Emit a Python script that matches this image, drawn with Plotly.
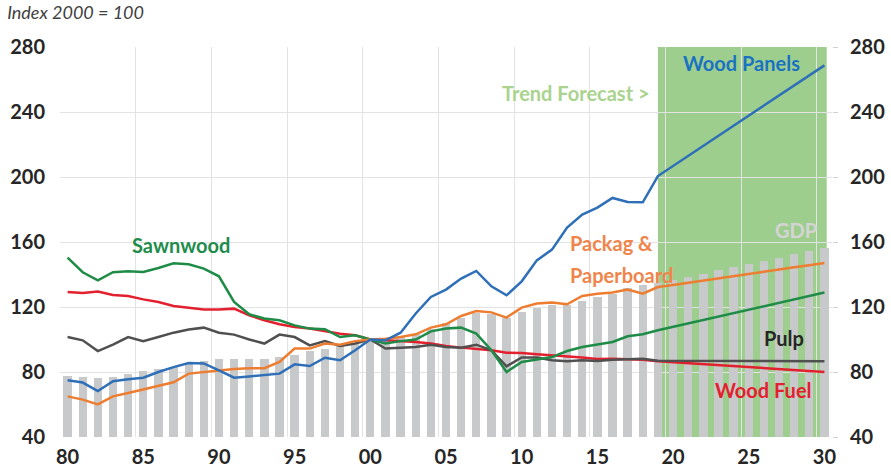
import plotly.graph_objects as go

years = list(range(1980, 2031))
tick_years = list(range(1980, 2031, 5))
tick_labels = ["80", "85", "90", "95", "00", "05", "10", "15", "20", "25", "30"]
y_ticks = [40, 80, 120, 160, 200, 240, 280]
forecast_start = 2019

gdp = [77.3, 77.0, 76.3, 77.0, 78.8, 80.4, 81.7, 83.0, 85.2, 87.0,
       88.2, 87.8, 88.2, 88.0, 89.2, 90.7, 92.9, 94.4, 96.0, 97.8,
       100.0, 101.0, 101.7, 103.5, 106.5, 110.0, 113.5, 116.5, 116.0, 113.0,
       117.0, 119.5, 121.0, 121.5, 124.0, 126.0, 128.2, 131.7, 133.4, 134.8,
       136.4, 138.5, 140.5, 142.6, 144.6, 146.3, 148.3, 150.4, 152.4, 154.3, 156.3]

wood_panels = [74.9, 73.5, 68.3, 74.3, 75.5, 76.5, 80.0, 83.0, 85.5, 85.3,
               81.0, 76.5, 77.3, 78.2, 79.0, 84.7, 83.7, 88.8, 87.2, 93.4,
               100.0, 99.5, 104.2, 116.0, 126.2, 130.7, 137.5, 142.2, 132.7, 127.2,
               135.8, 148.7, 155.3, 168.9, 176.9, 181.2, 187.1, 184.6, 184.4, 200.6,
               206.8, 213.0, 219.2, 225.4, 231.6, 237.8, 244.0, 250.2, 256.4, 262.6, 268.7]

packaging = [65.0, 63.0, 60.1, 65.0, 67.1, 69.2, 71.6, 73.7, 79.0, 80.0,
             80.9, 81.9, 82.3, 82.3, 86.2, 94.4, 94.4, 97.5, 96.8, 99.0,
             100.0, 100.5, 101.5, 103.2, 107.3, 109.4, 114.5, 117.5, 116.7, 113.5,
             119.6, 122.1, 122.7, 121.7, 126.8, 128.2, 128.9, 130.7, 128.2, 132.3,
             133.6, 135.0, 136.3, 137.7, 139.0, 140.4, 141.7, 143.0, 144.4, 145.7, 147.1]

sawnwood = [150.4, 141.4, 136.4, 141.4, 142.0, 141.5, 144.0, 146.9, 146.3, 143.6,
            138.9, 123.1, 115.5, 112.9, 111.8, 108.7, 106.7, 106.3, 101.5, 102.6,
            100.0, 97.5, 99.0, 100.0, 105.0, 106.7, 107.3, 103.6, 93.4, 80.0,
            86.2, 87.6, 89.2, 92.9, 95.4, 96.9, 98.5, 102.0, 103.2, 105.7,
            107.8, 109.9, 112.0, 114.1, 116.2, 118.3, 120.4, 122.5, 124.6, 126.8, 128.9]

wood_fuel = [129.2, 128.6, 129.5, 127.4, 126.8, 124.7, 123.1, 120.6, 119.6, 118.4,
             118.4, 119.0, 114.9, 111.8, 109.4, 107.7, 106.7, 105.2, 103.6, 102.6,
             100.0, 99.5, 99.0, 98.5, 97.5, 96.0, 95.0, 94.4, 93.4, 91.9,
             91.7, 90.9, 90.3, 89.7, 88.9, 88.0, 88.2, 87.8, 87.6, 86.6,
             86.0, 85.4, 84.8, 84.2, 83.6, 83.0, 82.4, 81.8, 81.2, 80.6, 80.0]

pulp = [101.5, 99.5, 92.9, 96.8, 101.5, 98.9, 101.5, 104.2, 106.1, 107.3,
        104.2, 103.0, 100.0, 97.5, 103.0, 101.5, 96.4, 99.0, 96.0, 97.5,
        100.0, 94.4, 95.0, 95.4, 96.8, 95.4, 95.0, 96.8, 93.4, 83.5,
        88.9, 88.9, 87.2, 86.6, 87.2, 86.8, 87.6, 87.8, 88.2, 87.0,
        87.0, 86.9, 86.9, 86.9, 86.8, 86.8, 86.8, 86.7, 86.7, 86.6, 86.6]

FONT = "Lato"
TXT = "#262626"
GRID = "#e3e3e3"

fig = go.Figure()
fig.add_trace(go.Bar(x=years, y=gdp, width=0.55, marker=dict(color="#c8c9ca", line_width=0),
                     name="GDP", showlegend=False))

lines = [
    (wood_fuel, "#e3202e", "Wood Fuel"),
    (pulp, "#505050", "Pulp"),
    (sawnwood, "#1e8c47", "Sawnwood"),
    (packaging, "#ed7d31", "Packag & Paperboard"),
    (wood_panels, "#2e6fb7", "Wood Panels"),
]
for vals, col, nm in lines:
    fig.add_trace(go.Scatter(x=years, y=vals, mode="lines", line=dict(color=col, width=2.5),
                             name=nm, showlegend=False))

# invisible trace so the right-hand axis is drawn
fig.add_trace(go.Scatter(x=years, y=gdp, yaxis="y2", mode="lines", line=dict(width=0),
                         opacity=0, hoverinfo="skip", showlegend=False))

fig.add_shape(type="rect", xref="x", yref="y", x0=forecast_start, x1=years[-1] + 0.15,
              y0=y_ticks[0], y1=y_ticks[-1], fillcolor="#9ece8e", line_width=0, layer="below")

def ann(text, x, y, color, size=20, xanchor="center"):
    fig.add_annotation(text=text, x=x, y=y, xref="x", yref="y", showarrow=False,
                       xanchor=xanchor, yanchor="middle",
                       font=dict(family=FONT, size=size, color=color, weight="bold"))

ann("Sawnwood", 1987.47, 158.0, "#1e8c4b")
ann("Wood Panels", 2024.5, 270.0, "#1a72c2")
ann("Trend Forecast >", 2013.6, 252.0, "#a9d38e")
ann("Packag &", 2013.07, 159.2, "#f0844a", xanchor="left")
ann("Paperboard", 2013.07, 140.0, "#f0844a", xanchor="left")
ann("Pulp", 2027.3, 100.7, TXT)
ann("Wood Fuel", 2026.0, 68.7, "#e3202e")
ann("GDP", 2028.15, 167.2, "#d4d4d4")

tickfont = dict(family=FONT, size=20, color=TXT, weight="bold")

fig.update_layout(
    width=891, height=471,
    margin=dict(l=60, r=59, t=47, b=34, pad=0),
    paper_bgcolor="white", plot_bgcolor="white",
    bargap=0,
    title=dict(text="<i>Index 2000 = 100</i>", x=0.008, xanchor="left", xref="container",
               y=1 - 13 / 471, yanchor="middle", yref="container", automargin=False,
               font=dict(family=FONT, size=18, color="#404040")),
    xaxis=dict(range=[1979.5, 2030.5], tickvals=tick_years, ticktext=tick_labels,
               showgrid=False, zeroline=False, showline=False, ticks="", automargin=False,
               tickfont=tickfont, ticklabelstandoff=6,
               minor=dict(tickvals=[y + 4.5 for y in tick_years[:-1]], showgrid=True,
                          gridcolor=GRID, gridwidth=1, ticks="")),
    yaxis=dict(range=[y_ticks[0], y_ticks[-1]], tickvals=y_ticks, showgrid=False,
               zeroline=False, showline=False, ticks="", tickfont=tickfont,
               ticklabelstandoff=14, automargin=False,
               minor=dict(tickvals=y_ticks[1:-1], showgrid=True, gridcolor=GRID,
                          gridwidth=1, ticks="")),
    yaxis2=dict(range=[y_ticks[0], y_ticks[-1]], tickvals=y_ticks, overlaying="y",
                side="right", anchor="x", showgrid=False, zeroline=False, showline=False,
                ticks="outside", ticklen=5, tickcolor="#d0d0d0", tickfont=tickfont,
                ticklabelstandoff=8, automargin=False),
)

fig.write_html("out.html", config={"displayModeBar": False},
               post_script="document.body.style.margin='0';document.body.style.overflow='hidden';")
